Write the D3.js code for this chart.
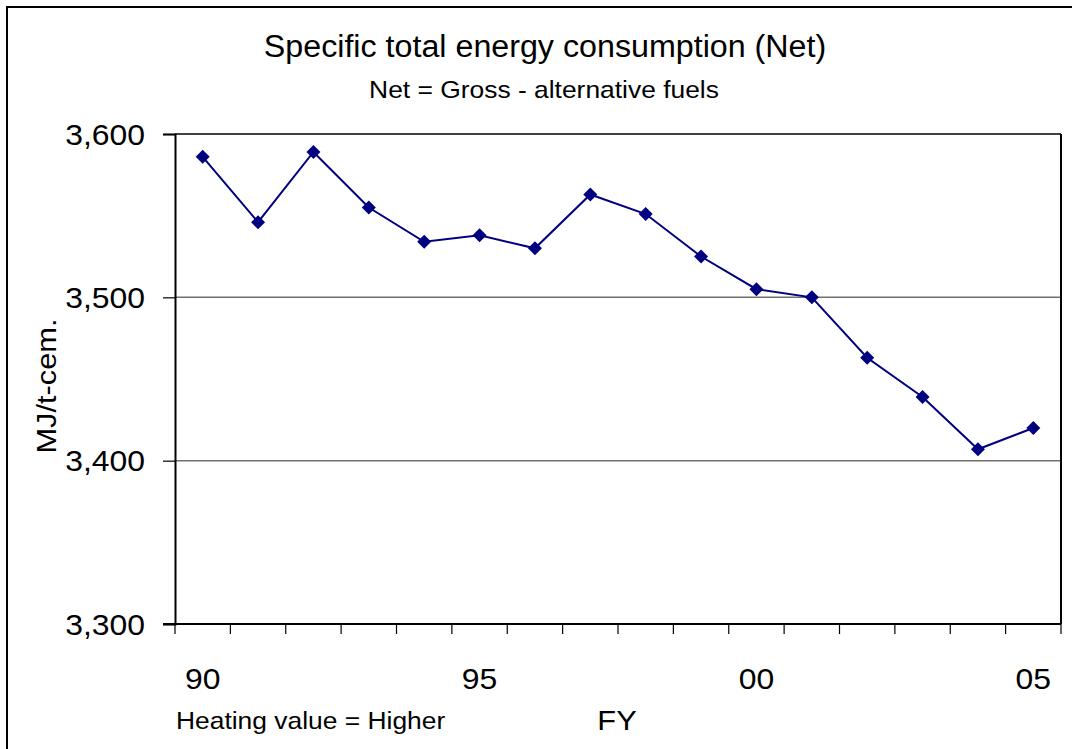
<!DOCTYPE html>
<html>
<head>
<meta charset="utf-8">
<script src="https://cdn.jsdelivr.net/npm/d3@7"></script>
<style>
  html, body { margin: 0; padding: 0; background: #fff; }
  svg { display: block; font-family: Arial, "Liberation Sans", sans-serif; }
</style>
</head>
<body>
<svg id="chart" width="1072" height="749"></svg>
<script>
// Fiscal years (two-digit labels) and net specific energy use, MJ per tonne of cement
const years = ["90","91","92","93","94","95","96","97","98","99","00","01","02","03","04","05"];
const energy = [3586, 3546, 3589, 3555, 3534, 3538, 3530, 3563, 3551, 3525, 3505, 3500, 3463, 3439, 3407, 3420];
const yTicks = [3300, 3400, 3500, 3600];
const xLabelYears = ["90", "95", "00", "05"];

const svg = d3.select("#chart");
const plot = { left: 175, right: 1061, top: 134, bottom: 624 };
const navy = "#000080";

// Outer chart frame (runs off the right and bottom edges)
svg.append("rect")
  .attr("x", 7).attr("y", 7)
  .attr("width", 1100).attr("height", 800)
  .attr("fill", "#fff")
  .attr("stroke", "#000").attr("stroke-width", 2);

const x = d3.scaleBand().domain(years).range([plot.left, plot.right]).padding(0);
const y = d3.scaleLinear().domain([3300, 3600]).range([plot.bottom, plot.top]);

// Text helper: slightly widened text anchored at (px, py)
function label(txt, px, py, size, anchor, rotate, sx = 1.1) {
  const g = svg.append("g")
    .attr("transform", `translate(${px},${py})` + (rotate ? ` rotate(${rotate})` : "") + ` scale(${sx},1)`);
  g.append("text")
    .attr("text-anchor", anchor)
    .attr("font-size", size)
    .attr("fill", "#000")
    .text(txt);
  return g;
}

// Horizontal gridlines
svg.append("g")
  .selectAll("line")
  .data(yTicks.filter(v => v > 3300 && v < 3600))
  .join("line")
  .attr("x1", plot.left).attr("x2", plot.right)
  .attr("y1", d => y(d)).attr("y2", d => y(d))
  .attr("stroke", "#707070").attr("stroke-width", 1.5);

// Plot frame: top and right edges
svg.append("line")
  .attr("x1", plot.left).attr("x2", plot.right)
  .attr("y1", plot.top).attr("y2", plot.top)
  .attr("stroke", "#404040").attr("stroke-width", 2);
svg.append("line")
  .attr("x1", plot.right).attr("x2", plot.right)
  .attr("y1", plot.top).attr("y2", plot.bottom)
  .attr("stroke", "#000").attr("stroke-width", 2);

// Y axis
const yAxis = svg.append("g")
  .attr("transform", `translate(${plot.left},0)`)
  .call(d3.axisLeft(y).tickValues(yTicks).tickSize(12).tickFormat(""));
yAxis.select(".domain").attr("stroke", "#000").attr("stroke-width", 2);
yAxis.selectAll(".tick line").attr("stroke", "#000").attr("stroke-width", 1.2);

yTicks.forEach(v => {
  label(d3.format(",")(v), 145, y(v) + 10.5, 29, "end");
});

// X axis: ticks on category boundaries
const xBoundaries = years.map(d => x(d)).concat([plot.right]);
svg.append("g")
  .selectAll("line")
  .data(xBoundaries)
  .join("line")
  .attr("x1", d => d).attr("x2", d => d)
  .attr("y1", plot.bottom).attr("y2", plot.bottom + 10)
  .attr("stroke", "#000").attr("stroke-width", 1.2);
svg.append("line")
  .attr("x1", plot.left - 12).attr("x2", plot.right)
  .attr("y1", plot.bottom).attr("y2", plot.bottom)
  .attr("stroke", "#000").attr("stroke-width", 2);

xLabelYears.forEach(yr => {
  label(yr, x(yr) + x.bandwidth() / 2, 689, 29, "middle");
});

// Series line
const line = d3.line()
  .x((d, i) => x(years[i]) + x.bandwidth() / 2)
  .y(d => y(d));
svg.append("path")
  .datum(energy)
  .attr("d", line)
  .attr("fill", "none")
  .attr("stroke", navy)
  .attr("stroke-width", 2);

// Diamond markers
const diamond = d3.symbol().type(d3.symbolSquare).size(98);
svg.append("g")
  .selectAll("path")
  .data(energy)
  .join("path")
  .attr("d", diamond)
  .attr("transform", (d, i) => `translate(${x(years[i]) + x.bandwidth() / 2},${y(d)}) rotate(45)`)
  .attr("fill", navy);

// Titles and axis labels
label("Specific total energy consumption (Net)", 545, 57, 31, "middle", 0, 1.04);
label("Net = Gross - alternative fuels", 544, 98, 24, "middle");
label("MJ/t-cem.", 56, 386, 28, "middle", -90);
label("FY", 617, 730, 28, "middle");
label("Heating value = Higher", 176, 729, 24, "start");
</script>
</body>
</html>
